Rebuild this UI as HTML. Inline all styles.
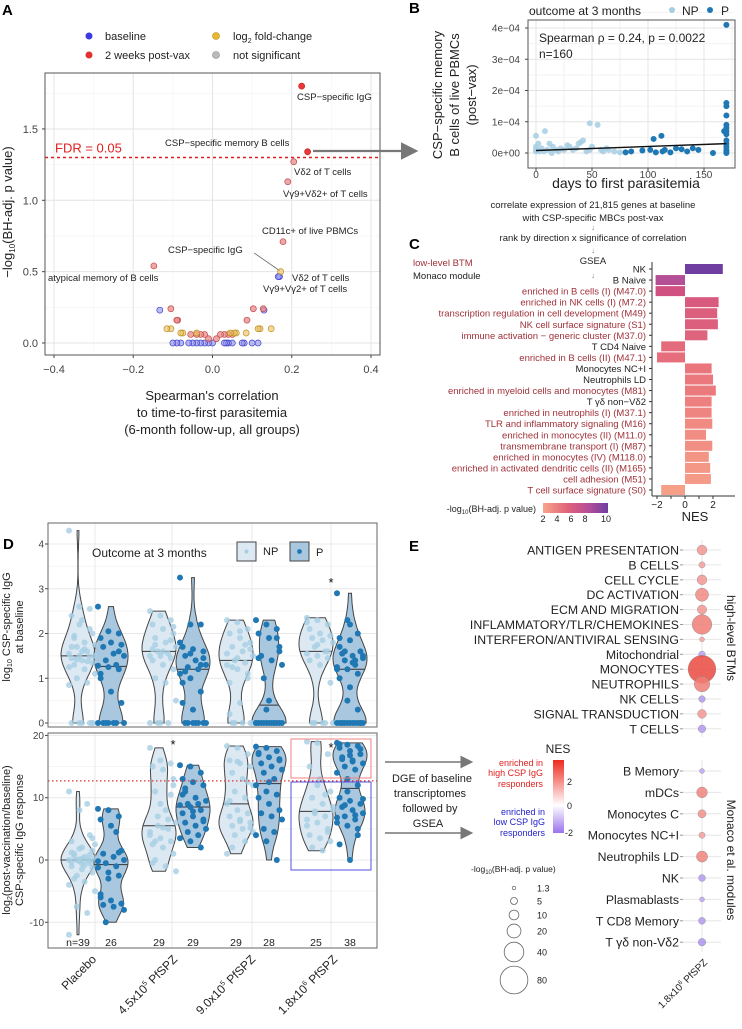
<!DOCTYPE html>
<html><head><meta charset="utf-8"><style>
html,body{margin:0;padding:0;background:#fff;}
svg{display:block;font-family:"Liberation Sans",Arial,sans-serif;}
</style></head><body>
<svg id="fig" width="742" height="1029" viewBox="0 0 742 1029" xmlns="http://www.w3.org/2000/svg">
<defs>
<linearGradient id="gradP" x1="0" x2="1" y1="0" y2="0"><stop offset="0" stop-color="#f8a48a"/><stop offset="0.4" stop-color="#e0607a"/><stop offset="0.7" stop-color="#b44e98"/><stop offset="1" stop-color="#6f3ea0"/></linearGradient>
<linearGradient id="gradNES" x1="0" x2="0" y1="0" y2="1"><stop offset="0" stop-color="#ee2a1e"/><stop offset="0.62" stop-color="#ffffff"/><stop offset="1" stop-color="#9a72ee"/></linearGradient>
<marker id="arr" markerWidth="8" markerHeight="8" refX="6" refY="4" orient="auto"><path d="M0,0 L8,4 L0,8 z" fill="#777"/></marker>
</defs>

<text x="2" y="15" font-size="15" font-weight="bold">A</text>
<text x="409" y="13" font-size="15" font-weight="bold">B</text>
<text x="409" y="249" font-size="15" font-weight="bold">C</text>
<text x="3" y="549" font-size="15" font-weight="bold">D</text>
<text x="409" y="551" font-size="15" font-weight="bold">E</text>

<g font-size="11" fill="#222">
<circle cx="89" cy="36" r="3.5" fill="#3a3ae0"/><text x="105" y="40">baseline</text>
<circle cx="89" cy="55" r="3.5" fill="#e03030"/><text x="105" y="59">2 weeks post-vax</text>
<circle cx="216" cy="36" r="3.5" fill="#e8b830" stroke="#b08a10" stroke-width="0.6"/><text x="233" y="40">log<tspan font-size="7" dy="3">2</tspan><tspan dy="-3"> fold-change</tspan></text>
<circle cx="216" cy="55" r="3.5" fill="#bbb" stroke="#888" stroke-width="0.6"/><text x="233" y="59">not significant</text>
</g>
<g id="gA"></g>
<text transform="translate(12,212) rotate(-90)" text-anchor="middle" font-size="13" fill="#222">−log<tspan font-size="8" dy="3">10</tspan><tspan dy="-3">(BH-adj. p value)</tspan></text>
<g font-size="13" fill="#222" text-anchor="middle">
<text x="212" y="400">Spearman's correlation</text><text x="212" y="417">to time-to-first parasitemia</text><text x="212" y="434">(6-month follow-up, all groups)</text></g>
<line x1="313" y1="151" x2="414" y2="151" stroke="#777" stroke-width="2.2" marker-end="url(#arr)"/>

<g id="gB"></g>
<text x="529" y="15" font-size="12" fill="#222">outcome at 3 months</text>
<circle cx="672" cy="10" r="3" fill="#a6cee3"/>
<text x="682" y="15" font-size="12" fill="#222">NP</text>
<circle cx="710" cy="10" r="3" fill="#1f78b4"/>
<text x="721" y="15" font-size="12" fill="#222">P</text>
<g font-size="13" fill="#222" text-anchor="middle">
<text transform="translate(442,95) rotate(-90)">CSP−specific memory</text>
<text transform="translate(459,95) rotate(-90)">B cells of live PBMCs</text>
<text transform="translate(476,95) rotate(-90)">(post−vax)</text></g>
<text x="626" y="188" font-size="14" text-anchor="middle" fill="#222">days to first parasitemia</text>
<g font-size="9.5" fill="#222" text-anchor="middle">
<text x="593" y="208">correlate expression of 21,815 genes at baseline</text>
<text x="593" y="221">with CSP-specific MBCs post-vax</text>
<text x="593" y="230" fill="#888" font-size="8">↓</text>
<text x="593" y="241">rank by direction x significance of correlation</text>
<text x="593" y="253" fill="#888" font-size="8">↓</text>
<text x="593" y="264">GSEA</text>
<text x="593" y="278" fill="#888" font-size="8">↓</text></g>

<text x="413" y="266" font-size="9.5" fill="#a0323a">low-level BTM</text>
<text x="413" y="279" font-size="9.5" fill="#222">Monaco module</text>
<g id="gC"></g>
<text x="695" y="521" font-size="13" text-anchor="middle" fill="#222">NES</text>
<text x="536" y="512" font-size="9" text-anchor="end" fill="#222">-log<tspan font-size="6" dy="2">10</tspan><tspan dy="-2">(BH-adj. p value)</tspan></text>
<rect x="543" y="503" width="65" height="10" fill="url(#gradP)"/>
<g font-size="9" fill="#222" text-anchor="middle">
<text x="543" y="522">2</text><text x="557" y="522">4</text><text x="571" y="522">6</text><text x="585" y="522">8</text><text x="606" y="522">10</text></g>

<g id="gD"></g>
<g font-size="11" fill="#222" text-anchor="middle">
<text transform="translate(10,627) rotate(-90)">log<tspan font-size="7" dy="2">10</tspan><tspan dy="-2"> CSP-specific IgG</tspan></text>
<text transform="translate(23,627) rotate(-90)">at baseline</text></g>
<g font-size="11" fill="#222" text-anchor="middle">
<text transform="translate(10,840) rotate(-90)">log<tspan font-size="7" dy="2">2</tspan><tspan dy="-2">(post-vaccination/baseline)</tspan></text>
<text transform="translate(23,840) rotate(-90)">CSP-specific IgG response</text></g>
<g>
<text x="92" y="557" font-size="12" fill="#222">Outcome at 3 months</text>
<rect x="237" y="542" width="19" height="19" fill="#dce9f3" stroke="#444"/><circle cx="246.5" cy="551.5" r="2" fill="#a6cee3"/>
<text x="263" y="555" font-size="11" fill="#222">NP</text>
<rect x="290" y="542" width="19" height="19" fill="#a9c8e0" stroke="#444"/><circle cx="299.5" cy="551.5" r="2.4" fill="#1f78b4"/>
<text x="316" y="556" font-size="11" fill="#222">P</text></g>

<line x1="385" y1="762" x2="470" y2="762" stroke="#777" stroke-width="1.6" marker-end="url(#arr)"/>
<line x1="385" y1="833" x2="470" y2="833" stroke="#777" stroke-width="1.6" marker-end="url(#arr)"/>
<g font-size="11" fill="#222" text-anchor="middle">
<text x="432" y="782">DGE of baseline</text><text x="430" y="797">transcriptomes</text><text x="430" y="812">followed by</text><text x="428" y="827">GSEA</text></g>
<g font-size="9" text-anchor="end">
<text x="543" y="766" fill="#e02020">enriched in</text><text x="543" y="776" fill="#e02020">high CSP IgG</text><text x="543" y="787" fill="#e02020">responders</text>
<text x="545" y="815" fill="#2222cc">enriched in</text><text x="545" y="825" fill="#2222cc">low CSP IgG</text><text x="545" y="836" fill="#2222cc">responders</text></g>
<text x="558" y="753" font-size="12" text-anchor="middle" fill="#222">NES</text>
<rect x="553" y="760" width="11" height="73" fill="url(#gradNES)"/>
<g font-size="9" fill="#222">
<text x="567" y="785">2</text><text x="567" y="809">0</text><text x="565" y="836">-2</text></g>
<text x="471" y="872" font-size="8.5" fill="#222">-log<tspan font-size="6" dy="2">10</tspan><tspan dy="-2">(BH-adj. p value)</tspan></text>
<g id="gSize"></g>

<g id="gE"></g>
<text transform="translate(727,638) rotate(90)" font-size="12" text-anchor="middle" fill="#222">high-level BTMs</text>
<text transform="translate(727,860) rotate(90)" font-size="12" text-anchor="middle" fill="#222">Monaco et al. modules</text>
<text transform="translate(708,963) rotate(-45)" font-size="10" text-anchor="end" fill="#222">1.8x10<tspan font-size="6" dy="-4">6</tspan><tspan dy="4"> PfSPZ</tspan></text>
</svg>
<script>
const aX = [0.225,0.24,0.205,0.19,0.178,-0.148,0.172,0.166,0.169,-0.133,-0.105,0.103,0.128,0.13,-0.09,-0.088,0.087,-0.115,-0.105,0.115,0.12,0.148,-0.08,-0.075,-0.04,0.045,0.055,0.06,0.085,-0.055,-0.04,-0.03,-0.02,0.02,0.03,0.04,0.05,-0.01,0.01,-0.1,-0.09,-0.08,-0.06,-0.05,-0.04,-0.03,-0.02,-0.01,0,0.03,0.035,0.04,0.05,0.075,0.08,0.1,0.115];
const aY = [1.80,1.34,1.27,1.13,0.71,0.54,0.50,0.465,0.465,0.23,0.24,0.24,0.24,0.23,0.16,0.16,0.16,0.10,0.10,0.10,0.10,0.10,0.07,0.07,0.07,0.07,0.07,0.07,0.07,0.06,0.06,0.06,0.06,0.06,0.06,0.06,0.06,0.03,0.03,0,0,0,0,0,0,0,0,0,0,0,0,0,0,0,0,0,0];
const aType = ["R","R","r","r","r","r","y","b","b","b","r","r","r","b","r","r","r","y","y","y","y","y","y","y","y","y","y","y","y","r","r","r","r","r","r","r","r","r","r","b","b","b","b","b","b","b","b","b","b","b","b","b","b","b","b","b","b"];
const aXTicks = [-0.4,-0.2,0.0,0.2,0.4];
const aYTicks = [0.0,0.5,1.0,1.5];
const bNPx = [0,0,0,0,8,3,5,10,12,15,18,20,22,25,28,30,33,36,38,40,42,45,48,48,55,58,60,63,65,70,75,50,2,7,14];
const bNPy = [0.05,0.1,0.2,0.55,0.7,0.05,0.15,0.1,0.3,0.2,0.1,0.05,0.15,0.1,0.25,0.2,0.1,0.15,0.3,0.35,0.4,0.05,0.1,0.95,0.9,0.1,0.05,0.15,0.1,0.05,0.02,0.2,0.3,0.05,0.0];
const bPx = [80,85,95,105,107,112,113,115,120,125,130,135,140,145,158,170,170,170,170,170,170,170,170,170,170,170,170,170,170,168,102];
const bPy = [0.02,0.05,0.08,0.45,0.02,0.55,0.05,0.1,0.02,0.15,0.12,0.05,0.15,0.1,0.0,4.1,1.6,1.5,1.2,0.9,0.8,0.7,0.6,0.4,0.3,0.2,0.1,0.05,0.0,0.7,0.1];
const bFit = [0.08,0.30];
const bXTicks = [0,50,100,150];
const bYTicks = [0,1,2,3,4];
const bYLabels = ["0e+00","1e−04","2e−04","3e−04","4e−04"];
const cLabels = ["NK","B Naive","enriched in B cells (I) (M47.0)","enriched in NK cells (I) (M7.2)","transcription regulation in cell development (M49)","NK cell surface signature (S1)","immune activation − generic cluster (M37.0)","T CD4 Naive","enriched in B cells (II) (M47.1)","Monocytes NC+I","Neutrophils LD","enriched in myeloid cells and monocytes (M81)","T γδ non−Vδ2","enriched in neutrophils (I) (M37.1)","TLR and inflammatory signaling (M16)","enriched in monocytes (II) (M11.0)","transmembrane transport (I) (M87)","enriched in monocytes (IV) (M118.0)","enriched in activated dendritic cells (II) (M165)","cell adhesion (M51)","T cell surface signature (S0)"];
const cIsBTM = [0,0,1,1,1,1,1,0,1,0,0,1,0,1,1,1,1,1,1,1,1];
const cNES = [2.7,-2.1,-2.1,2.4,2.3,2.35,1.6,-1.7,-2.0,1.9,2.0,2.2,1.9,1.9,1.95,1.5,1.95,1.7,1.8,1.85,-1.7];
const cP = [10,7.5,6,5.3,5,5,4.8,4.3,4.2,3.8,3.7,3.6,3.4,3.2,3.0,2.9,2.8,2.6,2.5,2.4,2.2];
const cTicks = [-2,-1,0,1,2];
const dGroups = ["Placebo","4.5x10^5 PfSPZ","9.0x10^5 PfSPZ","1.8x10^6 PfSPZ"];
const dN = [39,26,29,29,29,28,25,38];
const dTop = [
[4.3,2.6,2.55,2.4,2.3,2.0,1.95,1.8,1.75,1.7,1.6,1.55,1.5,1.48,1.45,1.4,1.35,1.3,1.2,1.1,1.0,0.9,0.85,0,0,0,0,0,1.9,1.65,1.5,1.42,1.38,1.25,2.2,2.1,1.7,1.6,0],
[2.6,2.05,2.0,1.9,1.8,1.75,1.7,1.55,1.5,1.4,1.3,1.28,1.25,1.2,1.0,0.7,0.45,0,0,0,0,0,0,0,1.6,1.1],
[2.5,2.4,2.3,2.2,2.1,2.0,1.9,1.8,1.7,1.6,1.55,1.5,1.5,1.45,1.4,1.3,1.2,1.0,0.9,0.5,0,0,0,0,1.85,1.65,1.6,2.15,1.75],
[3.25,2.2,2.2,1.7,1.65,1.6,1.5,1.4,1.3,1.25,1.2,1.1,1.0,0.7,0.45,0,0,0,0,0,0,0,1.8,1.55,1.3,0.9,0.3,1.45,1.15],
[2.3,2.25,2.1,2.0,1.9,1.8,1.7,1.6,1.5,1.4,1.35,1.3,1.2,1.0,0.9,0.45,0,0,0,0,0,1.75,1.55,1.45,1.1,0.2,2.05,1.65,1.25],
[2.3,2.2,2.1,2.0,1.9,1.6,1.5,1.4,1.3,1.0,0,0,0,0,0,0,0,0,0,0,0,0,0,0.3,1.9,1.45,0.5,1.7],
[2.35,2.3,2.2,2.1,2.0,1.95,1.9,1.85,1.8,1.7,1.6,1.55,1.5,1.45,1.4,1.3,0.9,0,0,0,0,0,2.25,1.75,1.6],
[2.9,2.3,2.0,1.9,1.85,1.6,1.55,1.5,1.45,1.4,1.3,1.25,1.2,1.1,1.0,0.8,0,0,0,0,0,0,0,0,0,0,0,0,0,1.35,1.5,1.6,1.4,1.2,0.5,0.3,1.7,2.2]];
const dBot = [
[11,8,4,3,2,1.5,1,0.5,0.3,0,0,0,-0.2,-0.5,-1,-1.5,-2,-3,-3.5,-5,-7.5,-8.5,-12,1.8,0.8,-0.3,0.2,-1.2,0.6,-0.8,2.5,-2.5,9,-4,0.1,-0.1,1.2,-0.6,3.5],
[8.2,8,7,6.5,5.5,1.5,1,0.5,0,-0.5,-1,-1.2,-2,-2.5,-5.5,-6.5,-7,-7.2,-7.5,-8,-10,4.5,-0.2,-3,1.2,-6],
[18,16,15.5,15,14.5,12,11,8,6,5.5,5,4,3.5,3,2.5,2,1,0,-1,-1.8,7,6.5,4.5,9,10.5,-0.5,5.2,13,3],
[15.2,15,14,13,12.5,12,11,10,9.5,9,9,8.8,8.5,8,7.5,7,6.5,6,5.5,5,4.5,4,3.5,3,2,10.5,7.8,6.2,11.5],
[18.3,18,17,16,15.5,15,14,13,12,11,10,9,8,7.5,7,6.5,6,5.5,5,4.5,4,3,1,15.8,12.5,9.5,6.2,5.2,2],
[18.2,18,17.5,17,16.5,16,15.5,15,14.5,14,13,12,11,10.5,10,9,8,7.5,7,6.5,5,4.5,4,3,0,17.2,12.5,16.2],
[19,18.8,17,15,13,11,10,9,8,7.5,7,6.5,6,5,4,3.5,3,2,1.5,8.5,7.8,10.5,5.5,12,4.5],
[18.8,18.5,18.3,18,17.5,17,16.5,16,15.5,15,14.5,14,13,12,10,9.5,9,8.5,8,7.5,7,6.5,6,5.5,5,2.5,0,17.8,16.2,15.8,9.8,8.8,7.2,6.8,11,4,18.6,16.8]];
const dThreshold = 12.7;
const dTopTicks = [0,1,2,3,4];
const dBotTicks = [-10,0,10,20];
const eBTM = ["ANTIGEN PRESENTATION","B CELLS","CELL CYCLE","DC ACTIVATION","ECM AND MIGRATION","INFLAMMATORY/TLR/CHEMOKINES","INTERFERON/ANTIVIRAL SENSING","Mitochondrial","MONOCYTES","NEUTROPHILS","NK CELLS","SIGNAL TRANSDUCTION","T CELLS"];
const eBTMnes = [1.6,1.5,1.6,1.8,1.6,2.0,1.4,-1.5,2.8,2.0,-1.6,1.6,-1.6];
const eBTMp = [10,4,10,18,9,40,2.5,4.5,80,25,4.5,8,6];
const eMon = ["B Memory","mDCs","Monocytes C","Monocytes NC+I","Neutrophils LD","NK","Plasmablasts","T CD8 Memory","T γδ non-Vδ2"];
const eMonNes = [-1.4,1.9,1.7,1.5,1.9,-1.6,-1.4,-1.6,-1.7];
const eMonP = [2.5,12,7,4,13,5,2.5,5,6];
const sizeBreaks = [1.3,5,10,20,40,80];

const NS="http://www.w3.org/2000/svg";
function mk(tag, parent, attrs){const e=document.createElementNS(NS,tag);for(const k in attrs)e.setAttribute(k,attrs[k]);parent.appendChild(e);return e;}
function txt(parent,x,y,s,attrs){const t=mk('text',parent,Object.assign({x:x,y:y},attrs||{}));t.textContent=s;return t;}

(function(){
const g=document.getElementById('gA');
const L=45,R=380,T=73,B=355;
const sx=v=>212.5+v*396.25, sy=v=>343-v*142.7;
let f=mk('rect',g,{x:L,y:T,width:R-L,height:B-T,fill:'#fff'});


for(let v=-0.4;v<=0.41;v+=0.1){const major=Math.abs(Math.round(v*10)%2)===0;const gl=mk('line',g,{x1:sx(v),x2:sx(v),y1:T,y2:B,stroke:major?'#e4e4e4':'#f2f2f2','stroke-width':major?1:0.6});

}
for(let v=0;v<=1.76;v+=0.25){const major=Math.round(v*4)%2===0;const gl=mk('line',g,{x1:L,x2:R,y1:sy(v),y2:sy(v),stroke:major?'#e4e4e4':'#f2f2f2','stroke-width':major?1:0.6});

}
aXTicks.forEach(v=>{const t=txt(g,sx(v),373,v.toFixed(1).replace('-','−'),{'font-size':11,'text-anchor':'middle',fill:'#444'});


mk('line',g,{x1:sx(v),x2:sx(v),y1:B,y2:B+3,stroke:'#444'});});
aYTicks.forEach(v=>{const t=txt(g,38,sy(v)+4,v.toFixed(1),{'font-size':11,'text-anchor':'end',fill:'#444'});


mk('line',g,{x1:L-3,x2:L,y1:sy(v),y2:sy(v),stroke:'#444'});});
const fdr=mk('line',g,{x1:L,x2:R,y1:sy(1.3),y2:sy(1.3),stroke:'#e02020','stroke-width':1.4,'stroke-dasharray':'3,3'});


const ft=txt(g,55,sy(1.3)-5,'FDR = 0.05',{'font-size':13,fill:'#e02020'});


const col={R:['#e83a3a',1,'#d02020'],r:['#e88a8a',0.75,'#c04848'],y:['#e8c060',0.6,'#c09020'],b:['#9090ee',0.6,'#4040cc']};
mk('line',g,{x1:sx(0.105),y1:253,x2:sx(0.172)-1,y2:sy(0.5)-1,stroke:'#555','stroke-width':0.7});
for(let i=aX.length-1;i>=0;i--){const c=col[aType[i]];const p=mk('circle',g,{cx:sx(aX[i]),cy:sy(aY[i]),r:3,fill:c[0],'fill-opacity':c[1],stroke:c[2],'stroke-width':0.7});

}
const labs=[["CSP−specific IgG",297,100],["CSP−specific memory B cells",165,146],["Vδ2 of T cells",294,175],["Vγ9+Vδ2+ of T cells",283,197],["CD11c+ of live PBMCs",262,234],["CSP−specific IgG",168,253],["Vδ2 of T cells",292,281],["Vγ9+Vγ2+ of T cells",263,292],["atypical memory of B cells",48,281]];
labs.forEach(l=>{const t=txt(g,l[1],l[2],l[0],{'font-size':9.5,fill:'#222'});

});
const fr=mk('rect',g,{x:L,y:T,width:R-L,height:B-T,fill:'none',stroke:'#555','stroke-width':1});


})();

(function(){
const g=document.getElementById('gB');
const L=528,R=735,T=20,B=168;
const sx=v=>536+v*1.12, sy=v=>153-v*31.25;
mk('rect',g,{x:L,y:T,width:R-L,height:B-T,fill:'#fff'});
for(let v=0;v<=175;v+=25){const gl=mk('line',g,{x1:sx(v),x2:sx(v),y1:T,y2:B,stroke:v%50===0?'#e4e4e4':'#f2f2f2'});

}
for(let v=0;v<=4.5;v+=0.5){const gl=mk('line',g,{x1:L,x2:R,y1:sy(v),y2:sy(v),stroke:v%1===0?'#e4e4e4':'#f2f2f2'});

}
bXTicks.forEach(v=>{const t=txt(g,sx(v),178,String(v),{'font-size':10,'text-anchor':'middle',fill:'#444'});


mk('line',g,{x1:sx(v),x2:sx(v),y1:B,y2:B+3,stroke:'#444'});});
bYTicks.forEach((v,i)=>{const t=txt(g,520,sy(v)+3.5,bYLabels[i],{'font-size':10,'text-anchor':'end',fill:'#444'});


mk('line',g,{x1:L-3,x2:L,y1:sy(v),y2:sy(v),stroke:'#444'});});
bNPx.forEach((x,i)=>{const p=mk('circle',g,{cx:sx(x),cy:sy(bNPy[i]),r:3,fill:'#a6cee3','fill-opacity':0.85});

});
bPx.forEach((x,i)=>{const p=mk('circle',g,{cx:sx(x),cy:sy(bPy[i]),r:3,fill:'#1f78b4'});

});
const rl=mk('line',g,{x1:sx(0),y1:sy(bFit[0]),x2:sx(170),y2:sy(bFit[1]),stroke:'#111','stroke-width':1.4});


const s=txt(g,539,42,'Spearman ρ = 0.24, p = 0.0022',{'font-size':12,fill:'#222'});


const n=txt(g,539,58,'n=160',{'font-size':12,fill:'#222'});


const fr=mk('rect',g,{x:L,y:T,width:R-L,height:B-T,fill:'none',stroke:'#555'});


})();

(function(){
const g=document.getElementById('gC');
const sx=v=>685+v*14, sy=i=>269+i*11.05;
const stops=[[2,[248,164,138]],[4,[232,112,122]],[6,[208,80,130]],[8,[170,78,155]],[10,[111,62,160]]];
function pc(p){p=Math.max(2,Math.min(10,p));for(let k=0;k<stops.length-1;k++){if(p<=stops[k+1][0]){const t=(p-stops[k][0])/(stops[k+1][0]-stops[k][0]);const a=stops[k][1],b=stops[k+1][1];return 'rgb('+a.map((v,j)=>Math.round(v+(b[j]-v)*t)).join(',')+')';}}return 'rgb(111,62,160)';}
mk('line',g,{x1:652,x2:652,y1:262,y2:496,stroke:'#333'});
mk('line',g,{x1:652,x2:735,y1:496,y2:496,stroke:'#333'});
cTicks.forEach(v=>{mk('line',g,{x1:sx(v),x2:sx(v),y1:496,y2:499,stroke:'#333'});
if(v%2===0){const t=txt(g,sx(v),508,v<0?'−'+(-v):String(v),{'font-size':10,'text-anchor':'middle',fill:'#222'});

}});
cLabels.forEach((l,i)=>{const y=sy(i);
const t=txt(g,646,y+3.5,l,{'font-size':9.5,'text-anchor':'end',fill:cIsBTM[i]?'#a0323a':'#222'});


mk('line',g,{x1:649,x2:652,y1:y,y2:y,stroke:'#333'});
const v=cNES[i];const b=mk('rect',g,{x:Math.min(sx(0),sx(v)),y:y-5,width:Math.abs(sx(v)-sx(0)),height:10,fill:pc(cP[i])});

});
})();

(function(){
const g=document.getElementById('gD');
const L=48,R=377;
const cx=[78,111,159,193,236,269,316,350];
const top={T:523,B:727,sy:v=>723-v*44.75};
const bot={T:733,B:948,sy:v=>860-v*6.23};
function frame(p,ticks,name){
mk('rect',g,{x:L,y:p.T,width:R-L,height:p.B-p.T,fill:'#fff'});
ticks.forEach((v,i)=>{const gl=mk('line',g,{x1:L,x2:R,y1:p.sy(v),y2:p.sy(v),stroke:'#e8e8e8'});


if(i<ticks.length-1){const mid=(v+ticks[i+1])/2;mk('line',g,{x1:L,x2:R,y1:p.sy(mid),y2:p.sy(mid),stroke:'#f4f4f4'});}
const t=txt(g,44,p.sy(v)+3.5,v<0?'-'+(-v):String(v),{'font-size':10,'text-anchor':'end',fill:'#444'});


mk('line',g,{x1:L-3,x2:L,y1:p.sy(v),y2:p.sy(v),stroke:'#444'});});
[95,172,252,331].forEach(x=>mk('line',g,{x1:x,x2:x,y1:p.T,y2:p.B,stroke:'#e8e8e8'}));
}
frame(top,dTopTicks,'d-top');frame(bot,dBotTicks,'d-bottom');
function violin(vals,x,p,bw,fill,name){
const mn=Math.min(...vals),mx=Math.max(...vals);const N=50;const ys=[],ds=[];
for(let k=0;k<=N;k++){const y=mn+(mx-mn)*k/N;let d=0;vals.forEach(v=>{const z=(y-v)/bw;d+=Math.exp(-0.5*z*z);});ys.push(y);ds.push(d);}
const dm=Math.max(...ds);const W=17;
let pts=ys.map((y,k)=>[x+ds[k]/dm*W,p.sy(y)]);
let pts2=ys.map((y,k)=>[x-ds[k]/dm*W,p.sy(y)]).reverse();
const d='M'+pts.concat(pts2).map(q=>q[0].toFixed(1)+','+q[1].toFixed(1)).join('L')+'Z';
const v=mk('path',g,{d:d,fill:fill,stroke:'#444','stroke-width':1});


const s=vals.slice().sort((a,b)=>a-b);const m=s.length%2?s[(s.length-1)/2]:(s[s.length/2-1]+s[s.length/2])/2;
let k=Math.round((m-mn)/(mx-mn)*N);k=Math.max(0,Math.min(N,k));const hw=ds[k]/dm*W;
mk('line',g,{x1:x-hw,x2:x+hw,y1:p.sy(m),y2:p.sy(m),stroke:'#333','stroke-width':1});
}
function pts(vals,x,p,col,op,name){vals.forEach((v,i)=>{const j=(((i*37)%11)-5)/5*13;const c=mk('circle',g,{cx:x+j,cy:p.sy(v),r:3,fill:col,'fill-opacity':op});

});}
for(let i=0;i<8;i++){const np=i%2===0;
violin(dTop[i],cx[i],top,0.32,np?'#dce9f3':'#a9c8e0','baseline-violin');
violin(dBot[i],cx[i],bot,1.8,np?'#dce9f3':'#a9c8e0','response-violin');}
for(let i=0;i<8;i++){const np=i%2===0;
pts(dTop[i],cx[i]+(np?4:0),top,np?'#a6cee3':'#1f78b4',np?0.8:1,'baseline-point');
pts(dBot[i],cx[i]+(np?4:0),bot,np?'#a6cee3':'#1f78b4',np?0.8:1,'response-point');
const t=txt(g,cx[i],946,(i===0?'n=':'')+dN[i],{'font-size':10.5,'text-anchor':'middle',fill:'#222'});

}
const th=mk('line',g,{x1:L,x2:R,y1:bot.sy(dThreshold),y2:bot.sy(dThreshold),stroke:'#e03030','stroke-width':1.2,'stroke-dasharray':'1.5,2.5'});


const rb=mk('rect',g,{x:291,y:739,width:80,height:39,fill:'none',stroke:'#f08080','stroke-width':1});


const bb=mk('rect',g,{x:291,y:782,width:80,height:88,fill:'none',stroke:'#5050e0','stroke-width':1});


[[331,587],[173,749],[331,752]].forEach(s=>{const t=txt(g,s[0],s[1],'*',{'font-size':13,'text-anchor':'middle',fill:'#111'});

});
[[L,top.T,top.B],[L,bot.T,bot.B]].forEach(f=>{const r=mk('rect',g,{x:L,y:f[1],width:R-L,height:f[2]-f[1],fill:'none',stroke:'#666'});

});
const lx=[97,178,256,338];
const labHTML=['Placebo','4.5x10<tspan font-size="7" dy="-5">5</tspan><tspan dy="5"> PfSPZ</tspan>','9.0x10<tspan font-size="7" dy="-5">5</tspan><tspan dy="5"> PfSPZ</tspan>','1.8x10<tspan font-size="7" dy="-5">6</tspan><tspan dy="5"> PfSPZ</tspan>'];
dGroups.forEach((gname,i)=>{const t=mk('text',g,{transform:'translate('+lx[i]+',960) rotate(-45)','font-size':12,'text-anchor':'end',fill:'#222'});
t.innerHTML=labHTML[i];

});
})();

const rOf=p=>Math.sqrt(p)*1.55;
(function(){
const g=document.getElementById('gSize');
const ys=[888,901,915,931,952,980];
sizeBreaks.forEach((b,i)=>{const c=mk('circle',g,{cx:514,cy:ys[i],r:Math.max(1.6,rOf(b)),fill:'none',stroke:'#666','stroke-width':0.8});


const t=txt(g,537,ys[i]+3.5,String(b),{'font-size':9,fill:'#222'});

});
})();
(function(){
const g=document.getElementById('gE');
const X=702;
function col(n){if(n>=0){const t=Math.min(1,n/3);return 'rgb('+Math.round(255-(255-232)*t)+','+Math.round(255-(255-60)*t)+','+Math.round(255-(255-50)*t)+')';}
const t=Math.min(1,-n/2);return 'rgb('+Math.round(255-(255-160)*t)+','+Math.round(255-(255-128)*t)+','+Math.round(255-(255-238)*t)+')';}
mk('line',g,{x1:X,x2:X,y1:540,y2:737,stroke:'#e6e6e6'});
mk('line',g,{x1:X,x2:X,y1:760,y2:952,stroke:'#e6e6e6'});
function rows(labels,nes,pv,y0,dy,name){
labels.forEach((l,i)=>{const y=y0+i*dy;
mk('line',g,{x1:683,x2:721,y1:y,y2:y,stroke:'#e6e6e6'});
mk('line',g,{x1:680,x2:683,y1:y,y2:y,stroke:'#999'});
const t=txt(g,679,y+4.5,l,{'font-size':12.3,'text-anchor':'end',fill:'#222'});

});
labels.forEach((l,i)=>{const y=y0+i*dy;
const c=mk('circle',g,{cx:X,cy:y,r:Math.max(1.8,rOf(pv[i])),fill:col(nes[i]),'fill-opacity':0.85,stroke:'#888','stroke-width':0.4});

});}
rows(eBTM,eBTMnes,eBTMp,550,14.9,'btm');
rows(eMon,eMonNes,eMonP,771,21.4,'monaco');
})();
</script>
</body></html>
